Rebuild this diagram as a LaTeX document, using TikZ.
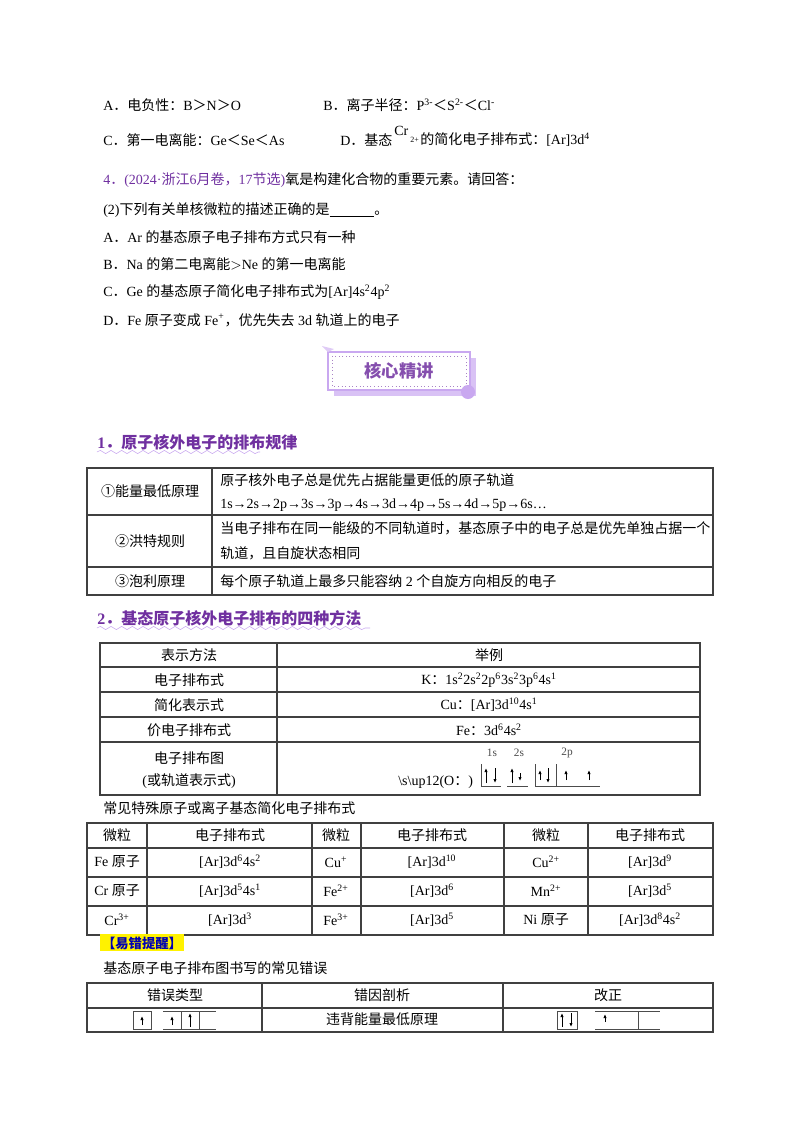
\documentclass[tikz,border=0pt]{standalone}
\usepackage{fontspec}
\setmainfont{Liberation Serif}
\newfontfamily\cjk{Noto Sans CJK SC}
\newfontfamily\latf{Liberation Serif}
\usetikzlibrary{decorations.pathmorphing}
\XeTeXinterchartokenstate=1
\newXeTeXintercharclass\cjkclass
\newcount\cc
\cc="4E00 \loop\ifnum\cc<"A000 \XeTeXcharclass\cc=\cjkclass \advance\cc by 1 \repeat
\cc="3000 \loop\ifnum\cc<"3040 \XeTeXcharclass\cc=\cjkclass \advance\cc by 1 \repeat
\cc="FF00 \loop\ifnum\cc<"FF60 \XeTeXcharclass\cc=\cjkclass \advance\cc by 1 \repeat
\cc="2460 \loop\ifnum\cc<"2470 \XeTeXcharclass\cc=\cjkclass \advance\cc by 1 \repeat
\XeTeXinterchartoks 0 \cjkclass {\cjk}
\XeTeXinterchartoks 4095 \cjkclass {\cjk}
\XeTeXinterchartoks \cjkclass 0 {\latf}
\XeTeXinterchartoks \cjkclass 4095 {\latf}
\definecolor{pur}{HTML}{7030A0}
\definecolor{lpur}{HTML}{C9A8F0}
\newcommand{\su}[1]{\textsuperscript{#1}}
\usetikzlibrary{arrows.meta}
\tikzset{t/.style={anchor=west,inner sep=0pt,font=\fontsize{10.5}{13}\selectfont},
 c/.style={inner sep=0pt,font=\fontsize{10.5}{13}\selectfont},
 hd/.style={anchor=west,inner sep=0pt,font=\fontsize{12}{14}\selectfont\bfseries,text=pur},
 wav/.style={draw=lpur,decorate,decoration={snake,amplitude=1.2,segment length=8}},
 tl/.style={draw=black!75,line width=0.8pt},
 orb/.style={draw=black!70,line width=0.6pt},
 ar/.style={-{Latex[length=3pt,width=2.5pt]},line width=0.6pt}}
\begin{document}
\begin{tikzpicture}[x=0.75pt,y=-0.75pt]
\useasboundingbox (0,0) rectangle (800,1132);
\fill[white] (0,0) rectangle (800,1132);
\node[t] (a1) at (103,105) {A．电负性：B＞N＞O};
\node[t] (b1) at (323,105) {B．离子半径：P\su{3-}＜S\su{2-}＜Cl\su{-}};
\node[t] (c1) at (103,140) {C．第一电离能：Ge＜Se＜As};
\node[t] (d1) at (340,140) {D．基态};
\node[t] (d2) at (394,131) {Cr};
\node[t,font=\fontsize{6}{7}\selectfont] (d3) at (410,140) {2+};
\node[t] (d4) at (420,140) {的简化电子排布式：[Ar]3d\su{4}};
\node[t] (q4) at (103,180) {\textcolor{pur}{4．(2024·浙江\latf 6\cjk 月卷，\latf 17\cjk 节选)}氧是构建化合物的重要元素。请回答：};
\node[t] (q2) at (103,210) {(2)下列有关单核微粒的描述正确的是\underline{\hspace{3.2em}}。};
\node[t] (qa) at (103,237) {A．Ar 的基态原子电子排布方式只有一种};
\node[t] (qb) at (103,264) {B．Na 的第二电离能$>$Ne 的第一电离能};
\node[t] (qc) at (103,292) {C．Ge 的基态原子简化电子排布式为[Ar]4s\su{2}4p\su{2}};
\node[t] (qd) at (103,320) {D．Fe 原子变成 Fe\su{+}，优先失去 3d 轨道上的电子};
% title box
\fill[lpur!70] (334,358) rectangle (476,396);
\fill[white] (328,352) rectangle (470,390);
\draw[lpur,line width=0.8pt] (328,352) rectangle (470,390);
\draw[pur!60,dotted,line width=0.7pt] (332,356) rectangle (466,386);
\fill[lpur] (468,392) circle (7);
\fill[lpur!60] (328,352) -- (322,346) -- (334,349) -- cycle;
\node[c,font=\fontsize{13}{15}\selectfont\bfseries,text=pur!85] (tt) at (399,371) {核心精讲};
% section 1
\node[hd] (h1) at (97,442) {1．原子核外电子的排布规律};
\draw[wav] (97,452) -- (260,452);
\draw[tl] (87,468) rectangle (713,595);
\draw[tl] (87,515) -- (713,515) (87,567) -- (713,567) (212,468) -- (212,595);
\node[c] (r1) at (150,491) {①能量最低原理};
\node[t] (r1a) at (220,480) {原子核外电子总是优先占据能量更低的原子轨道};
\node[t] (r1b) at (220,505) {1s→2s→2p→3s→3p→4s→3d→4p→5s→4d→5p→6s…};
\node[c] (r2) at (150,541) {②洪特规则};
\node[t] (r2a) at (220,528) {当电子排布在同一能级的不同轨道时，基态原子中的电子总是优先单独占据一个};
\node[t] (r2b) at (220,553) {轨道，且自旋状态相同};
\node[c] (r3) at (150,581) {③泡利原理};
\node[t] (r3a) at (220,581) {每个原子轨道上最多只能容纳 2 个自旋方向相反的电子};
% section 2
\node[hd] (h2) at (97,618) {2．基态原子核外电子排布的四种方法};
\draw[wav] (97,628) -- (370,628);
\draw[tl] (100,643) rectangle (700,795);
\draw[tl] (100,667) -- (700,667) (100,692) -- (700,692) (100,717) -- (700,717) (100,742) -- (700,742) (277,643) -- (277,795);
\node[c] (m1) at (189,655) {表示方法};
\node[c] (e1) at (489,655) {举例};
\node[c] (m2) at (189,680) {电子排布式};
\node[c] (e2) at (489,680) {K：1s\su{2}2s\su{2}2p\su{6}3s\su{2}3p\su{6}4s\su{1}};
\node[c] (m3) at (189,705) {简化表示式};
\node[c] (e3) at (489,705) {Cu：[Ar]3d\su{10}4s\su{1}};
\node[c] (m4) at (189,730) {价电子排布式};
\node[c] (e4) at (489,730) {Fe：3d\su{6}4s\su{2}};
\node[c] (m5) at (189,758) {电子排布图};
\node[c] (m6) at (189,781) {(或轨道表示式)};
\node[t] (e5) at (398,782) {\textbackslash s\textbackslash up12(O：)};
\node[c,font=\fontsize{8.5}{10}\selectfont,text=black!70] (l1) at (492,753) {1s};
\node[c,font=\fontsize{8.5}{10}\selectfont,text=black!70] (l2) at (519,753) {2s};
\node[c,font=\fontsize{8.5}{10}\selectfont,text=black!70] (l3) at (567,753) {2p};
\draw[orb] (481,764) -- (481,786) -- (501,786) (507,786) -- (528,786) (535,764) -- (535,786) -- (600,786) (556,764) -- (556,786);
\draw[ar] (486,783) -- (486,768); \draw[ar] (495,768) -- (495,783);
\draw[ar] (512,783) -- (512,768); \draw[ar] (520,773) -- (520,781);
\draw[ar] (540,780) -- (540,770); \draw[ar] (548,768) -- (548,783);
\draw[ar] (566,780) -- (566,770); \draw[ar] (589,780) -- (589,770);
% table 3
\node[t] (cap3) at (103,808) {常见特殊原子或离子基态简化电子排布式};
\draw[tl] (87,823) rectangle (713,935);
\draw[tl] (87,848) -- (713,848) (87,877) -- (713,877) (87,906) -- (713,906);
\draw[tl] (147,823) -- (147,935) (312,823) -- (312,935) (361,823) -- (361,935) (504,823) -- (504,935) (588,823) -- (588,935);
\foreach \x/\s [count=\i] in {117/微粒,230/电子排布式,336/微粒,432/电子排布式,546/微粒,650/电子排布式}{\node[c] (th\i) at (\x,835) {\s};}
\node[c] (u1) at (117,862) {Fe 原子}; \node[c] (u2) at (230,862) {[Ar]3d\su{6}4s\su{2}};
\node[c] (u3) at (336,862) {Cu\su{+}}; \node[c] (u4) at (432,862) {[Ar]3d\su{10}};
\node[c] (u5) at (546,862) {Cu\su{2+}}; \node[c] (u6) at (650,862) {[Ar]3d\su{9}};
\node[c] (v1) at (117,891) {Cr 原子}; \node[c] (v2) at (230,891) {[Ar]3d\su{5}4s\su{1}};
\node[c] (v3) at (336,891) {Fe\su{2+}}; \node[c] (v4) at (432,891) {[Ar]3d\su{6}};
\node[c] (v5) at (546,891) {Mn\su{2+}}; \node[c] (v6) at (650,891) {[Ar]3d\su{5}};
\node[c] (w1) at (117,920) {Cr\su{3+}}; \node[c] (w2) at (230,920) {[Ar]3d\su{3}};
\node[c] (w3) at (336,920) {Fe\su{3+}}; \node[c] (w4) at (432,920) {[Ar]3d\su{5}};
\node[c] (w5) at (546,920) {Ni 原子}; \node[c] (w6) at (650,920) {[Ar]3d\su{8}4s\su{2}};
\fill[yellow] (100,934) rectangle (184,951);
\node[c,font=\fontsize{10}{12}\selectfont\bfseries,text=blue!70!black] (yc) at (142,943) {【易错提醒】};
\node[t] (cap4) at (103,968) {基态原子电子排布图书写的常见错误};
% table 4
\draw[tl] (87,983) rectangle (713,1032);
\draw[tl] (87,1008) -- (713,1008) (262,983) -- (262,1032) (503,983) -- (503,1032);
\node[c] (x1) at (175,995) {错误类型};
\node[c] (x2) at (382,995) {错因剖析};
\node[c] (x3) at (608,995) {改正};
\node[c] (x4) at (382,1019) {违背能量最低原理};
\draw[orb] (133,1029) -- (133,1011) -- (151,1011) -- (151,1029) -- cycle;
\draw[orb] (163,1011) -- (216,1011) (163,1029) -- (216,1029) (199,1011) -- (199,1029) (181,1011) -- (181,1029);
\draw[ar] (142,1025) -- (142,1016); \draw[ar] (172,1025) -- (172,1016); \draw[ar] (190,1027) -- (190,1013);
\draw[orb] (557,1029) -- (557,1011) -- (577,1011) -- (577,1029) -- cycle;
\draw[orb] (595,1011) -- (660,1011) (595,1029) -- (660,1029) (638,1011) -- (638,1029);
\draw[ar] (562,1027) -- (562,1013); \draw[ar] (571,1013) -- (571,1027); \draw[ar] (605,1022) -- (605,1014);
\end{tikzpicture}
\end{document}
